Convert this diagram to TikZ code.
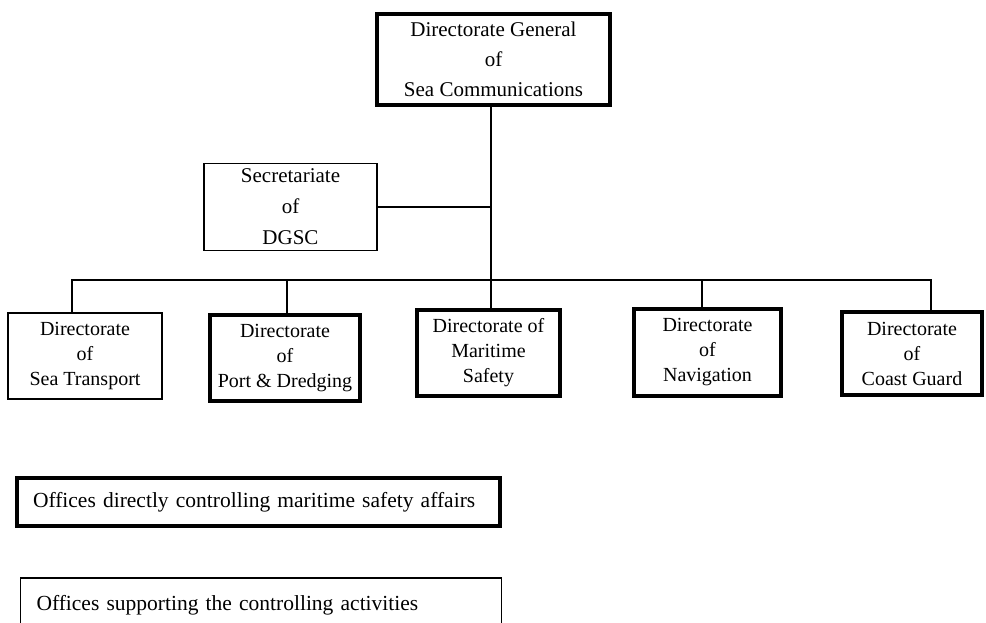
\documentclass[tikz,border=0pt]{standalone}
\usepackage{fontspec}
\setmainfont{Liberation Serif}
\begin{document}
\begin{tikzpicture}[x=1pt,y=-1pt,
  box/.style={draw, line width=1.5pt, inner sep=0pt, align=center},
  thickbox/.style={box, line width=4pt},
  link/.style={line width=2pt},
  headfont/.style={font=\fontsize{21}{30}\selectfont},
  secfont/.style={font=\fontsize{21}{31}\selectfont},
  childfont/.style={font=\fontsize{20}{25}\selectfont},
  legfont/.style={font=\fontsize{21.5}{25}\selectfont}]
\useasboundingbox (0,0) rectangle (986,622);

\node[thickbox, headfont, minimum width=233pt, minimum height=91pt] (dg) at (493.5,59.5)
  {Directorate General\\of\\Sea Communications};
\node[box, secfont, minimum width=173pt, minimum height=87pt] (sec) at (290.5,207)
  {Secretariate\\of\\DGSC};

\node[box, childfont, minimum width=154pt, minimum height=86pt] (sea) at (85,356)
  {Directorate\\of\\Sea Transport};
\node[thickbox, childfont, minimum width=150pt, minimum height=86pt] (port) at (285,358)
  {Directorate\\of\\Port \& Dredging};
\node[thickbox, childfont, minimum width=143pt, minimum height=86pt] (mar) at (488.5,353)
  {Directorate of\\Maritime\\Safety};
\node[thickbox, childfont, minimum width=147pt, minimum height=87pt] (nav) at (707.5,352.5)
  {Directorate\\of\\Navigation};
\node[thickbox, childfont, minimum width=140pt, minimum height=83pt] (cg) at (912,353.5)
  {Directorate\\of\\Coast Guard};

\coordinate (bc) at (491,280);
\coordinate (b1) at (72,280);
\coordinate (b2) at (287,280);
\coordinate (b4) at (702,280);
\coordinate (b5) at (931,280);

\draw[link] (dg.south -| bc) -- (mar.north -| bc);
\draw[link] (sec.east) -- (sec.east -| bc);
\draw[link] (b1 |- sea.north) -- (b1) -- (b5) -- (b5 |- cg.north);
\draw[link] (b2) -- (b2 |- port.north);
\draw[link] (b4) -- (b4 |- nav.north);

\node[thickbox, legfont, text width=451pt, inner xsep=16pt, minimum height=48pt, align=left] (leg1) at (258.5,502)
  {Offices directly controlling maritime safety affairs};
\node[box, legfont, text width=449pt, inner xsep=16pt, minimum height=54pt, align=left] (leg2) at (261,605)
  {Offices supporting the controlling activities};
\end{tikzpicture}
\end{document}
